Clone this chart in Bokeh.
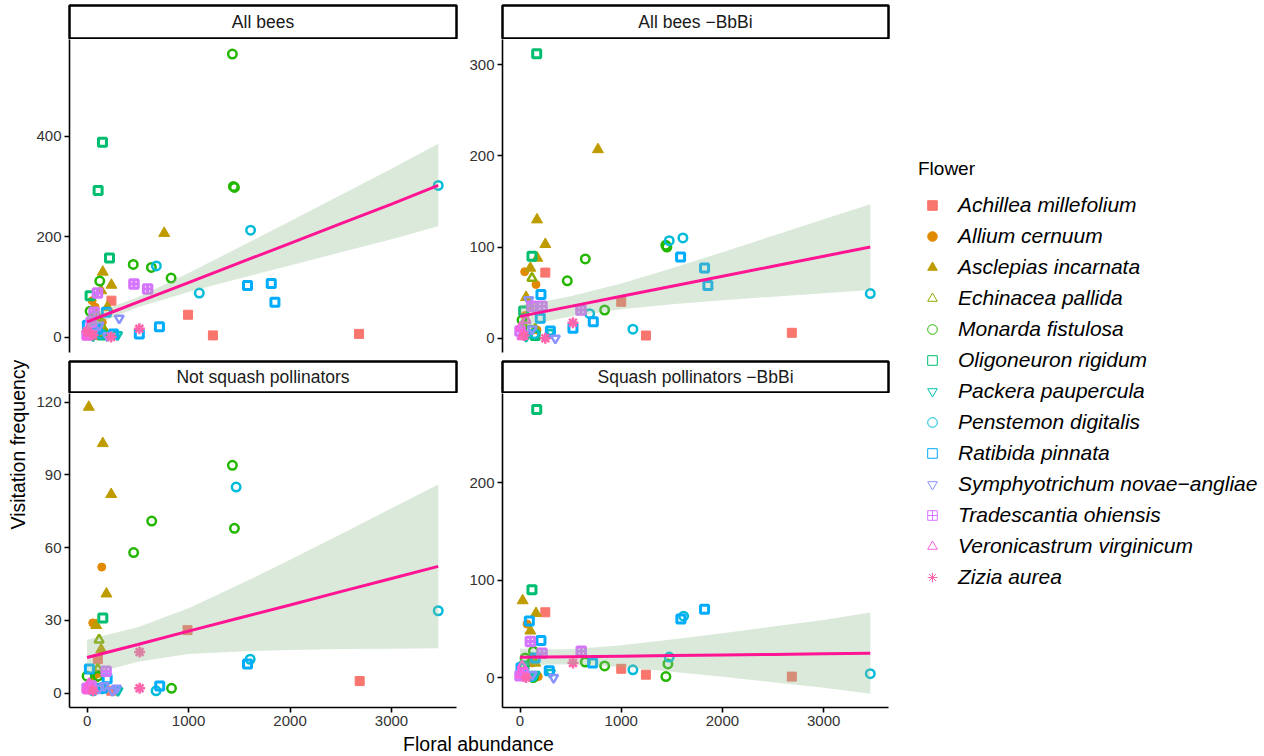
from bokeh.embed import file_html
from bokeh.layouts import column, row
from bokeh.models import FixedTicker, Label, Legend, LegendItem, Range1d
from bokeh.plotting import figure
from bokeh.resources import INLINE

FONT = "Liberation Sans"

flowers = ["Achillea millefolium", "Allium cernuum", "Asclepias incarnata",
           "Echinacea pallida", "Monarda fistulosa", "Oligoneuron rigidum",
           "Packera paupercula", "Penstemon digitalis", "Ratibida pinnata",
           "Symphyotrichum novae\u2212angliae", "Tradescantia ohiensis",
           "Veronicastrum virginicum", "Zizia aurea"]
codes = ["Ach", "All", "Asc", "Ech", "Mon", "Oli", "Pac", "Pen", "Rat", "Sym", "Tra", "Ver", "Ziz"]
colors = ["#F8766D", "#E18A00", "#BE9C00", "#8CAB00", "#24B700", "#00BE70", "#00C1AB",
          "#00BBDA", "#00ACFC", "#8B93FF", "#D575FE", "#F962DD", "#FF65AC"]

# All bees
ab_flower = (["Ach"] * 4 + ["All"] * 5 + ["Asc"] * 6 + ["Ech"] * 3 + ["Mon"] * 9 + ["Oli"] * 5
             + ["Pac"] * 2 + ["Pen"] * 6 + ["Rat"] * 9 + ["Sym"] * 4 + ["Tra"] * 6 + ["Ver"] * 3 + ["Ziz"] * 4)
ab_x = [2680, 1240, 995, 240,
        50, 150, 80, 170, 100,
        155, 240, 760, 139, 40, 200,
        110, 30, 150,
        1432, 1452, 1442, 455, 634, 828, 125, 30, 119,
        152, 109, 221, 30, 150,
        300, 60,
        3460, 1611, 683, 1106, 132, 50,
        1581, 1815, 1851, 713, 515, 261, 3, 190, 100,
        317, 119, 60, 200,
        462, 597, 102, 0, 69, 40,
        5, 20, 10,
        515, 237, 60, 0]
ab_y = [7, 4, 45, 73,
        73, 30, 60, 12, 3,
        130, 104, 207, 93, 18, 60,
        40, 10, 20,
        563, 298, 300, 145, 139, 118, 112, 52, 7,
        388, 292, 158, 83, 5,
        5, 3,
        302, 213, 142, 88, 7, 15,
        103, 107, 70, 21, 7, 7, 24, 50, 15,
        38, 24, 10, 3,
        106, 96, 88, 5, 50, 30,
        2, 8, 15,
        17, 1, 5, 12]

# All bees -BbBi
bb_flower = (["Ach"] * 4 + ["All"] * 5 + ["Asc"] * 6 + ["Ech"] * 3 + ["Mon"] * 7 + ["Oli"] * 4
             + ["Pac"] * 2 + ["Pen"] * 6 + ["Rat"] * 8 + ["Sym"] * 4 + ["Tra"] * 4 + ["Ver"] * 3 + ["Ziz"] * 3)
bb_x = [2685, 1244, 1000, 250,
        46, 158, 168, 100, 50,
        770, 168, 250, 102, 170, 60,
        118, 30, 150,
        1451, 1440, 645, 467, 836, 100, 20,
        165, 118, 36, 150,
        300, 60,
        3460, 1474, 1609, 1115, 688, 142,
        1586, 1823, 1856, 724, 523, 207, 200, 300,
        86, 349, 120, 40,
        118, 217, 602, 0,
        20, 5, 60,
        523, 250, 40]
bb_y = [6, 3, 40, 72,
        73, 59, 9, 35, 25,
        207, 130, 103, 77, 88, 45,
        66, 15, 10,
        100, 102, 87, 63, 31, 9, 20,
        312, 90, 30, 3,
        6, 2,
        49, 107, 110, 10, 27, 5,
        89, 77, 58, 18, 11, 48, 22, 8,
        42, 0, 10, 5,
        35, 35, 31, 8,
        2, 12, 20,
        17, 0, 3]

# Not squash pollinators
ns_flower = (["Ach"] * 4 + ["All"] * 4 + ["Asc"] * 7 + ["Ech"] * 3 + ["Mon"] * 7 + ["Oli"] * 2
             + ["Pac"] * 2 + ["Pen"] * 5 + ["Rat"] * 5 + ["Sym"] * 4 + ["Tra"] * 3 + ["Ver"] * 3 + ["Ziz"] * 3)
ns_x = [2686, 990, 238, 106,
        145, 56, 170, 100,
        17, 155, 238, 191, 90, 139, 60,
        119, 106, 40,
        1432, 1452, 637, 459, 0, 106, 832,
        155, 60,
        304, 150,
        1469, 3460, 1607, 680, 60,
        1581, 23, 198, 716, 150,
        171, 120, 290, 250,
        188, 0, 40,
        0, 20, 10,
        518, 518, 60]
ns_y = [5, 26, 1, 14,
        52, 29, 3, 8,
        118, 103, 82, 41, 28, 18, 6,
        22, 10, 3,
        94, 68, 71, 58, 7, 7, 2,
        31, 2,
        1, 2,
        85, 34, 14, 1, 1,
        12, 10, 6, 3, 2,
        3, 2, 2, 1,
        9, 2, 3,
        2, 4, 1,
        17, 2, 1]

# Squash pollinators -BbBi
sq_flower = (["Ach"] * 4 + ["All"] * 3 + ["Asc"] * 5 + ["Ech"] * 2 + ["Mon"] * 7 + ["Oli"] * 3
             + ["Pac"] * 2 + ["Pen"] * 5 + ["Rat"] * 8 + ["Sym"] * 3 + ["Tra"] * 5 + ["Ver"] * 2 + ["Ziz"] * 2)
sq_x = [2685, 1244, 1000, 250,
        70, 180, 120,
        26, 158, 102, 150, 60,
        120, 40,
        132, 645, 836, 1461, 1441, 130, 50,
        165, 118, 40,
        150, 300,
        1616, 1474, 1115, 3460, 120,
        92, 207, 1823, 1589, 717, 289, 10, 150,
        332, 120, 50,
        102, 217, 605, 0, 30,
        20, 5,
        523, 60]
sq_y = [1, 3, 9, 67,
        55, 1, 15,
        79, 66, 48, 15, 5,
        20, 6,
        27, 16, 12, 14, 1, 0, 20,
        275, 90, 12,
        3, 5,
        63, 21, 8, 4, 1,
        58, 38, 70, 60, 15, 7, 10, 20,
        0, 3, 2,
        37, 25, 27, 2, 5,
        12, 3,
        15, 0]

# linear fits with confidence band, read at these abundances
fit_x = [0, 250, 500, 1000, 1500, 2000, 2500, 3000, 3460]
ab_fit = [31, 50.5, 70, 109, 148, 187, 226, 265, 302]
ab_lo = [16, 39.5, 60, 90, 117, 143, 169, 195, 221]
ab_hi = [46, 61.5, 80, 128, 179, 231, 283, 335, 385]
bb_fit = [24, 29.5, 35, 46, 57, 68, 79, 90, 100]
bb_lo = [11.5, 18.3, 23.9, 31.9, 37.2, 41.6, 45.6, 49.5, 53]
bb_hi = [36.5, 40.7, 46.1, 60.1, 76.8, 94.4, 112.4, 130.5, 147]
ns_fit = [14.7, 17.4, 20.1, 25.6, 31, 36.4, 41.9, 47.3, 52.3]
ns_lo = [8, 10.2, 13, 16.2, 17.2, 17.8, 18.2, 18.3, 18.5]
ns_hi = [22, 24.6, 27.2, 35, 44.8, 55, 65.6, 76.3, 86.1]
sq_fit = [20.8, 21.1, 21.4, 22, 22.6, 23.2, 23.8, 24.4, 25]
sq_lo = [11.7, 13.3, 13.8, 10.8, 6.1, 0.9, -4.8, -10.4, -16.7]
sq_hi = [29.9, 28.9, 29, 33.2, 39.1, 45.5, 52.4, 59.2, 66.7]

x_ticks = [0, 1000, 2000, 3000]

# marker, filled, size, line width in panels, size in legend
style = {
    "Ach": ("square", True, 9, 1, 7),
    "All": ("circle", True, 8, 1, 6),
    "Asc": ("triangle", True, 11, 1, 8),
    "Ech": ("triangle", False, 9, 2.5, 8),
    "Mon": ("circle", False, 8.5, 2.5, 7),
    "Oli": ("square", False, 8, 3, 7),
    "Pac": ("inverted_triangle", False, 9, 2.5, 8),
    "Pen": ("circle", False, 8.5, 2.5, 7),
    "Rat": ("square", False, 8, 3, 7),
    "Sym": ("inverted_triangle", False, 9, 2.5, 8),
    "Tra": ("square_cross", False, 8.5, 3, 7),
    "Ver": ("triangle", False, 9, 2.5, 8),
    "Ziz": ("asterisk", False, 11, 2.5, 8),
}


def strip(text, w, left, h, top, bottom):
    s = figure(width=w, height=h, x_range=(0, 1), y_range=(0, 1),
               x_axis_location=None, y_axis_location=None,
               output_backend="svg", toolbar_location=None,
               min_border_left=left, min_border_right=10,
               min_border_top=top, min_border_bottom=bottom)
    s.grid.visible = False
    s.outline_line_color = "black"
    s.outline_line_width = 2.5
    s.add_layout(Label(x=0.5, y=0.5, text=text, text_align="center", text_baseline="middle",
                       text_font=FONT, text_font_size="17.5px", text_color="#1A1A1A"))
    return s


def panel(fl, xs, ys, lo, fit, hi, yr, yticks, w, left, h, bottom, show_x):
    p = figure(width=w, height=h, x_range=Range1d(-173, 3640), y_range=Range1d(*yr),
               x_axis_location="below" if show_x else None,
               output_backend="svg", toolbar_location=None,
               min_border_left=left, min_border_right=10,
               min_border_top=0, min_border_bottom=bottom)
    p.grid.visible = False
    p.outline_line_color = None
    for code, col in zip(codes, colors):
        idx = [i for i, f in enumerate(fl) if f == code]
        mk, filled, size, lw, _ = style[code]
        p.scatter([xs[i] for i in idx], [ys[i] for i in idx], marker=mk, size=size,
                  line_color=col, line_width=lw, fill_color=col if filled else None)
    p.varea(x=fit_x, y1=lo, y2=hi, fill_color="#8FBC8F", fill_alpha=0.33)
    p.line(fit_x, fit, line_color="#FF1493", line_width=3)
    p.yaxis.ticker = FixedTicker(ticks=yticks)
    if show_x:
        p.xaxis.ticker = FixedTicker(ticks=x_ticks)
    for ax in p.axis:
        ax.axis_line_color = "black"
        ax.axis_line_width = 1.6
        ax.major_tick_line_color = "black"
        ax.major_tick_line_width = 1.6
        ax.major_tick_out = 5
        ax.major_tick_in = 0
        ax.minor_tick_line_color = None
        ax.major_label_text_font = FONT
        ax.major_label_text_font_size = "15px"
        ax.major_label_text_color = "#333333"
        ax.major_label_standoff = 3
    return p


LW, RW = 436, 432
tl = panel(ab_flower, ab_x, ab_y, ab_lo, ab_fit, ab_hi, (-30, 592), [0, 200, 400], LW, 39, 318, 5, False)
tr = panel(bb_flower, bb_x, bb_y, bb_lo, bb_fit, bb_hi, (-15.6, 327.6), [0, 100, 200, 300], RW, 36, 318, 5, False)
bl = panel(ns_flower, ns_x, ns_y, ns_lo, ns_fit, ns_hi, (-5.9, 123.6), [0, 30, 60, 90, 120], LW, 39, 338, 24, True)
br = panel(sq_flower, sq_x, sq_y, sq_lo, sq_fit, sq_hi, (-30.7, 291.5), [0, 100, 200], RW, 36, 338, 24, True)

s_tl = strip("All bees", LW, 39, 39, 5, 1)
s_tr = strip("All bees \u2212BbBi", RW, 36, 39, 5, 1)
s_bl = strip("Not squash pollinators", LW, 39, 36, 4, 1)
s_br = strip("Squash pollinators \u2212BbBi", RW, 36, 36, 4, 1)


def blank(w, h, top=0, left=0):
    f = figure(width=w, height=h, x_range=(0, 1), y_range=(0, 1),
               x_axis_location=None, y_axis_location=None,
               output_backend="svg", toolbar_location=None,
               min_border_left=left, min_border_right=0, min_border_top=top, min_border_bottom=0)
    f.grid.visible = False
    f.outline_line_color = None
    return f


ylab = blank(30, 756)
ylab.add_layout(Label(x=0.567, y=0.508, text="Visitation frequency", angle=1.5708,
                      text_align="center", text_baseline="middle",
                      text_font=FONT, text_font_size="19.5px", text_color="black"))

xlab = blank(LW + RW, 25)
xlab.add_layout(Label(x=0.516, y=0.52, text="Floral abundance",
                      text_align="center", text_baseline="middle",
                      text_font=FONT, text_font_size="19.5px", text_color="black"))

lg = blank(366, 756, top=142, left=4)
items = []
for name, code, col in zip(flowers, codes, colors):
    mk, filled, _, _, lsize = style[code]
    r = lg.scatter(x=[float("nan")], y=[float("nan")], marker=mk, size=lsize, line_color=col,
                   line_width=1, fill_color=col if filled else None)
    items.append(LegendItem(label=name, renderers=[r]))
legend = Legend(items=items, location="top_left", title="Flower",
                title_text_font=FONT, title_text_font_size="19px", title_text_font_style="normal",
                title_text_color="black", title_standoff=13,
                label_text_font=FONT, label_text_font_size="21px", label_text_font_style="italic",
                label_text_color="black", label_standoff=12, label_height=24,
                glyph_width=28, glyph_height=24, spacing=7, padding=4, margin=16,
                border_line_color=None, background_fill_alpha=0)
lg.add_layout(legend)

grid = column(row(column(s_tl, tl), column(s_tr, tr)),
              row(column(s_bl, bl), column(s_br, br)),
              xlab)
p = row(ylab, grid, lg)

open("out.html", "w").write(file_html(p, INLINE))
